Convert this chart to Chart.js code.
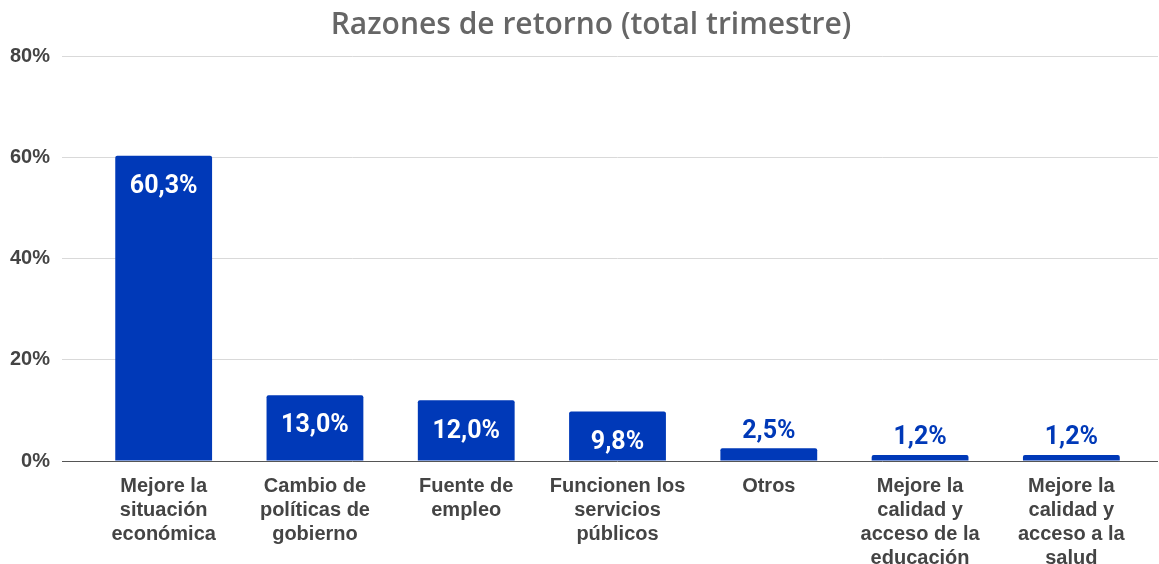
<!DOCTYPE html>
<html>
<head>
<meta charset="utf-8">
<script src="https://cdn.jsdelivr.net/npm/chart.js@4.4.1/dist/chart.umd.min.js"></script>
<style>
  html, body { margin: 0; padding: 0; background: #fff; }
  #wrap { width: 1159px; height: 564px; }
</style>
</head>
<body>
<div id="wrap"><canvas id="grafico"></canvas></div>
<script>
// datos del grafico
var titulo = 'Razones de retorno (total trimestre)';
var categorias = [
  ['Mejore la', 'situación', 'económica'],
  ['Cambio de', 'políticas de', 'gobierno'],
  ['Fuente de', 'empleo'],
  ['Funcionen los', 'servicios', 'públicos'],
  ['Otros'],
  ['Mejore la', 'calidad y', 'acceso de la', 'educación'],
  ['Mejore la', 'calidad y', 'acceso a la', 'salud']
];
var valores = [60.3, 13.0, 12.0, 9.8, 2.5, 1.2, 1.2];
var ticksY = [0, 20, 40, 60, 80];

var azul = '#0039b8';

// titulo dibujado a mano (centrado como en el original)
var tituloPlugin = {
  id: 'titulo',
  afterDraw: function (chart) {
    var ctx = chart.ctx;
    ctx.save();
    ctx.font = '600 30px "Open Sans"';
    ctx.fillStyle = '#666666';
    ctx.textAlign = 'center';
    ctx.textBaseline = 'middle';
    ctx.fillText(titulo, 591, 25);
    ctx.restore();
  }
};

// etiquetas de valor: dentro de la barra si es alta, encima si es baja
var etiquetasPlugin = {
  id: 'etiquetas',
  afterDatasetsDraw: function (chart) {
    var ctx = chart.ctx;
    var meta = chart.getDatasetMeta(0);
    ctx.save();
    ctx.font = 'bold 25px Roboto';
    ctx.textAlign = 'center';
    ctx.textBaseline = 'middle';
    meta.data.forEach(function (bar, i) {
      var txt = valores[i].toFixed(1).replace('.', ',') + '%';
      if (valores[i] >= 5) {
        ctx.fillStyle = '#ffffff';
        ctx.fillText(txt, bar.x, bar.y + 31);
      } else {
        ctx.fillStyle = azul;
        ctx.fillText(txt, bar.x, bar.y - 17);
      }
    });
    ctx.restore();
  }
};

// prolonga las lineas de la grilla a la derecha
var grillaPlugin = {
  id: 'grillaExtra',
  beforeDatasetsDraw: function (chart) {
    var ctx = chart.ctx;
    var y = chart.scales.y;
    var area = chart.chartArea;
    ctx.save();
    ticksY.forEach(function (t) {
      var py = Math.round(y.getPixelForValue(t) - 0.5) + 0.5;
      ctx.strokeStyle = t === 0 ? '#555555' : '#d9d9d9';
      ctx.lineWidth = 1;
      ctx.beginPath();
      ctx.moveTo(area.right - 1, py);
      ctx.lineTo(area.right + 11, py);
      ctx.stroke();
    });
    ctx.restore();
  }
};

new Chart(document.getElementById('grafico'), {
  type: 'bar',
  data: {
    labels: categorias,
    datasets: [{
      data: valores,
      backgroundColor: azul,
      borderRadius: { topLeft: 2, topRight: 2 },
      borderSkipped: 'bottom',
      barPercentage: 0.64,
      categoryPercentage: 1.0
    }]
  },
  options: {
    responsive: true,
    maintainAspectRatio: false,
    animation: false,
    layout: { padding: { left: -2, right: 12, top: 56, bottom: -19 } },
    plugins: {
      legend: { display: false },
      tooltip: { enabled: false },
      title: { display: false }
    },
    scales: {
      x: {
        grid: { display: false, drawTicks: false },
        border: { display: false },
        ticks: {
          autoSkip: false,
          maxRotation: 0,
          padding: 13,
          color: '#444444',
          font: { family: 'Liberation Sans', size: 20, weight: 'bold', lineHeight: 1.2 }
        }
      },
      y: {
        min: 0,
        max: 80,
        afterBuildTicks: function (axis) {
          axis.ticks = ticksY.map(function (v) { return { value: v }; });
        },
        grid: {
          color: function (c) { return c.tick && c.tick.value === 0 ? '#555555' : '#d9d9d9'; },
          drawTicks: true,
          tickLength: 26
        },
        border: { display: false },
        ticks: {
          padding: 12,
          color: '#444444',
          font: { family: 'Liberation Sans', size: 20, weight: 'bold' },
          callback: function (v) { return v + '%'; }
        }
      }
    }
  },
  plugins: [etiquetasPlugin, grillaPlugin, tituloPlugin]
});
</script>
</body>
</html>
